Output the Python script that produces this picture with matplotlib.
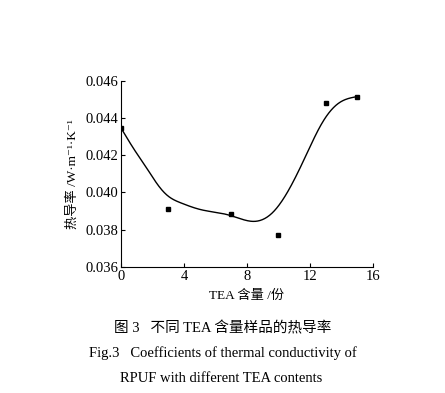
import numpy as np
import matplotlib
matplotlib.use("Agg")
import matplotlib.pyplot as plt

plt.rcParams["font.family"] = ["Liberation Serif", "Noto Sans CJK SC", "DejaVu Sans"]

# measured points
tea_parts = [0, 3, 7, 10, 13, 15]
conductivity = [0.04345, 0.03912, 0.03882, 0.03773, 0.04479, 0.04511]

# fitted curve
fit_x = [0, 0.85, 1.7, 2.33, 2.96, 3.81, 5.07, 6.76, 7.7, 8.45,
         9.6, 10.66, 11.72, 12.77, 13.83, 15]
fit_y = [0.04345, 0.04228, 0.04121, 0.04041, 0.03982, 0.03943, 0.03907,
         0.0388, 0.03855, 0.03844, 0.03889, 0.04014, 0.04193, 0.04372,
         0.04479, 0.04514]


def natural_spline(xs, ys, n=400):
    """Natural cubic spline through the knots, evaluated on a fine grid."""
    x = np.asarray(xs, float)
    y = np.asarray(ys, float)
    h = np.diff(x)
    m = len(x)
    A = np.zeros((m, m))
    b = np.zeros(m)
    A[0, 0] = A[-1, -1] = 1
    for i in range(1, m - 1):
        A[i, i - 1] = h[i - 1]
        A[i, i] = 2 * (h[i - 1] + h[i])
        A[i, i + 1] = h[i]
        b[i] = 6 * ((y[i + 1] - y[i]) / h[i] - (y[i] - y[i - 1]) / h[i - 1])
    M = np.linalg.solve(A, b)
    xx = np.linspace(x[0], x[-1], n)
    k = np.clip(np.searchsorted(x, xx) - 1, 0, m - 2)
    t0 = x[k + 1] - xx
    t1 = xx - x[k]
    hk = h[k]
    yy = (M[k] * t0 ** 3 / (6 * hk) + M[k + 1] * t1 ** 3 / (6 * hk)
          + (y[k] / hk - M[k] * hk / 6) * t0
          + (y[k + 1] / hk - M[k + 1] * hk / 6) * t1)
    return xx, yy


fig = plt.figure(figsize=(4.45, 3.93), dpi=100)
ax = fig.add_axes([0.272, 0.321, 0.566, 0.474])

sx, sy = natural_spline(fit_x, fit_y)
ax.plot(sx, sy, color="black", lw=1.0)
ax.plot(tea_parts, conductivity, "s", color="black", ms=3.5)

ax.set_xlim(0, 16)
ax.set_ylim(0.036, 0.046)
ax.set_xticks([0, 4, 8, 12, 16])
ax.set_yticks([0.036, 0.038, 0.040, 0.042, 0.044, 0.046])
ax.set_yticklabels(["0.036", "0.038", "0.040", "0.042", "0.044", "0.046"])
ax.tick_params(direction="in", length=3, labelsize=10.5, pad=2)
for s in ["top", "right"]:
    ax.spines[s].set_visible(False)

ax.set_xlabel("TEA 含量 /份", fontsize=9.5, labelpad=5)
ax.set_ylabel("热导率 /W·m⁻¹·K⁻¹", fontsize=9.5, labelpad=5)

fig.text(0.50, 1 - 328 / 393, "图 3   不同 TEA 含量样品的热导率",
         ha="center", va="center", fontsize=10.5)
fig.text(0.50, 1 - 353 / 393, "Fig.3   Coefficients of thermal conductivity of",
         ha="center", va="center", fontsize=10.5)
fig.text(0.497, 1 - 378 / 393, "RPUF with different TEA contents",
         ha="center", va="center", fontsize=10.5)

fig.savefig("out.png", dpi=100)
